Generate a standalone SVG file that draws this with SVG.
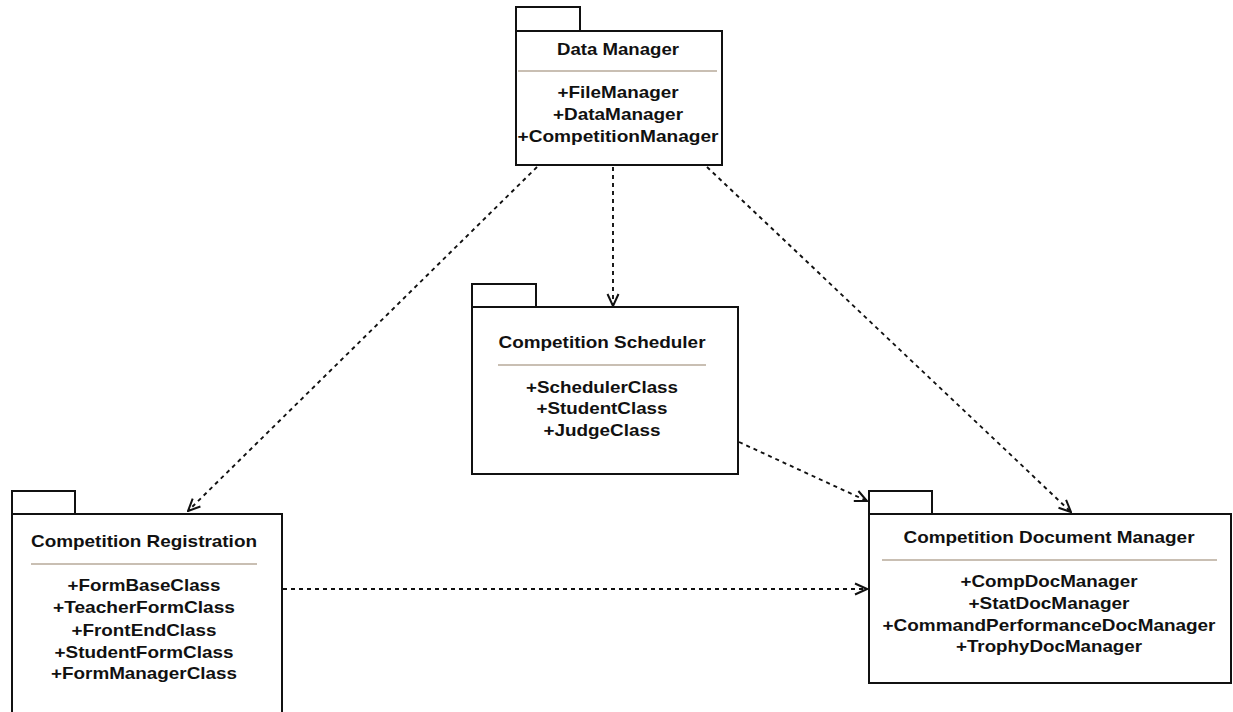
<svg xmlns="http://www.w3.org/2000/svg" width="1233" height="712" viewBox="0 0 1233 712">
<style>
.box{fill:#fff;stroke:#111;stroke-width:2}
.sep{stroke:#c9bfb3;stroke-width:1.8}
.t{font-family:"Liberation Sans",Arial,sans-serif;font-weight:bold;font-size:17px;fill:#111;text-anchor:middle}
.c{fill:none;stroke:#111;stroke-width:1.9;stroke-dasharray:4,4}
</style>
<defs>
<marker id="open" viewBox="0 0 14 14" refX="13" refY="7" markerWidth="14" markerHeight="14" markerUnits="userSpaceOnUse" orient="auto">
<path d="M1,1.5 L13,7 L1,12.5" fill="none" stroke="#111" stroke-width="2"/>
</marker>
</defs>
<rect width="1233" height="712" fill="#fff"/>
<g id="connectors">
<line class="c" x1="537" y1="167" x2="188" y2="511" marker-end="url(#open)"/>
<line class="c" x1="613" y1="167" x2="613" y2="306" marker-end="url(#open)"/>
<line class="c" x1="707" y1="167" x2="1071" y2="512" marker-end="url(#open)"/>
<line class="c" x1="739" y1="442" x2="867" y2="501" marker-end="url(#open)"/>
<line class="c" x1="283" y1="589" x2="867" y2="589" marker-end="url(#open)"/>
</g>
<g id="data-manager">
<rect class="box" x="516" y="7" width="64" height="24"/>
<rect class="box" x="516" y="31" width="206" height="134"/>
<text class="t" x="618" y="55" textLength="122" lengthAdjust="spacingAndGlyphs">Data Manager</text>
<line class="sep" x1="518" y1="71" x2="717" y2="71"/>
<text class="t" x="618" y="98" textLength="121" lengthAdjust="spacingAndGlyphs">+FileManager</text>
<text class="t" x="618" y="120" textLength="130" lengthAdjust="spacingAndGlyphs">+DataManager</text>
<text class="t" x="618" y="142" textLength="201" lengthAdjust="spacingAndGlyphs">+CompetitionManager</text>
</g>
<g id="competition-scheduler">
<rect class="box" x="472" y="284" width="64" height="23"/>
<rect class="box" x="472" y="307" width="266" height="167"/>
<text class="t" x="602" y="348" textLength="207" lengthAdjust="spacingAndGlyphs">Competition Scheduler</text>
<line class="sep" x1="498" y1="365" x2="706" y2="365"/>
<text class="t" x="602" y="393" textLength="152" lengthAdjust="spacingAndGlyphs">+SchedulerClass</text>
<text class="t" x="602" y="414" textLength="131" lengthAdjust="spacingAndGlyphs">+StudentClass</text>
<text class="t" x="602" y="436" textLength="117" lengthAdjust="spacingAndGlyphs">+JudgeClass</text>
</g>
<g id="competition-registration">
<rect class="box" x="12" y="491" width="63" height="23"/>
<rect class="box" x="12" y="514" width="270" height="210"/>
<text class="t" x="144" y="547" textLength="226" lengthAdjust="spacingAndGlyphs">Competition Registration</text>
<line class="sep" x1="31" y1="564" x2="257" y2="564"/>
<text class="t" x="144" y="591" textLength="153" lengthAdjust="spacingAndGlyphs">+FormBaseClass</text>
<text class="t" x="144" y="613" textLength="182" lengthAdjust="spacingAndGlyphs">+TeacherFormClass</text>
<text class="t" x="144" y="636" textLength="145" lengthAdjust="spacingAndGlyphs">+FrontEndClass</text>
<text class="t" x="144" y="658" textLength="179" lengthAdjust="spacingAndGlyphs">+StudentFormClass</text>
<text class="t" x="144" y="679" textLength="186" lengthAdjust="spacingAndGlyphs">+FormManagerClass</text>
</g>
<g id="competition-document-manager">
<rect class="box" x="869" y="491" width="63" height="23"/>
<rect class="box" x="869" y="514" width="362" height="169"/>
<text class="t" x="1049" y="543" textLength="291" lengthAdjust="spacingAndGlyphs">Competition Document Manager</text>
<line class="sep" x1="882" y1="560" x2="1217" y2="560"/>
<text class="t" x="1049" y="587" textLength="177" lengthAdjust="spacingAndGlyphs">+CompDocManager</text>
<text class="t" x="1049" y="609" textLength="161" lengthAdjust="spacingAndGlyphs">+StatDocManager</text>
<text class="t" x="1049" y="631" textLength="333" lengthAdjust="spacingAndGlyphs">+CommandPerformanceDocManager</text>
<text class="t" x="1049" y="652" textLength="186" lengthAdjust="spacingAndGlyphs">+TrophyDocManager</text>
</g>
</svg>
